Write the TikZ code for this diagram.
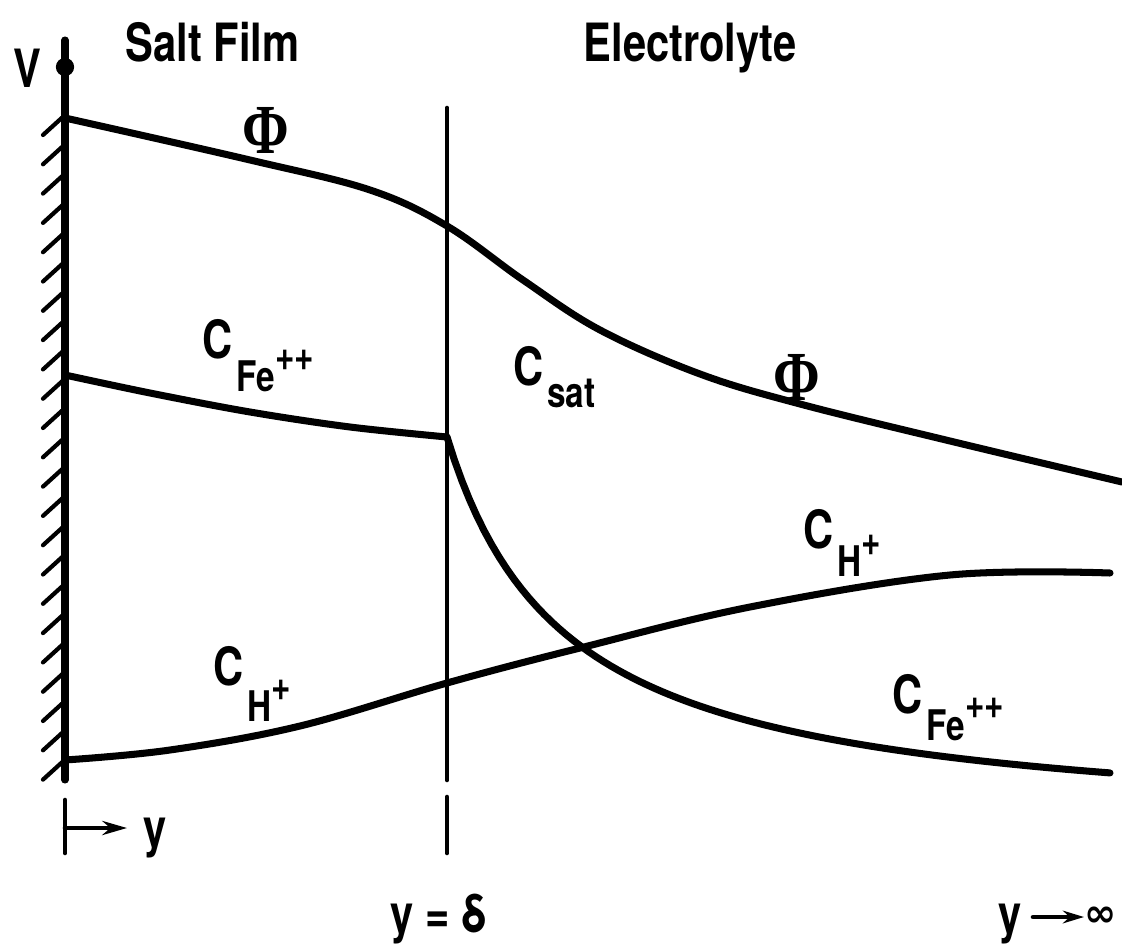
\documentclass[tikz,border=0pt]{standalone}
\usepackage{fontspec}
\setmainfont{TeX Gyre Heros}[FakeStretch=0.79]
\newfontfamily\djfont{DejaVu Sans}
\newfontfamily\phifont{Liberation Serif}
\usetikzlibrary{arrows.meta}
\newcommand{\lblsize}{\fontsize{15}{15}\selectfont\bfseries}
\newcommand{\subsize}{\fontsize{12}{12}\selectfont\bfseries}
% #1 subscript, #2 superscript, #3 drop of subscript
\newcommand{\Conc}[3]{C\hspace{1pt}\raisebox{-#3}{\subsize #1\raisebox{6pt}{#2}}}
\newcommand{\PhiSym}{\scalebox{0.8}[1]{\phifont\bfseries Φ}}
\begin{document}
\begin{tikzpicture}[x=0.01cm,y=-0.01cm,
  curve/.style={line width=2pt,line cap=round,line join=round},
  wallline/.style={line width=2pt,line cap=round},
  hatchline/.style={line width=1.2pt,line cap=round},
  thinline/.style={line width=1.3pt,line cap=round},
  lbl/.style={inner sep=0pt,anchor=base west,font=\lblsize},
  phil/.style={inner sep=0pt,font=\fontsize{20}{20}\selectfont}]
\useasboundingbox (0,0) rectangle (1122,946);
% wall
\draw[wallline] (65,40) -- (65,780);
\fill (65,67) circle[radius=2.6pt];
\foreach \k in {0,...,22} {\draw[hatchline] (65,{115+29.3*\k}) -- ++(-22,20);}
% interface line y = delta
\draw[thinline] (447,108) -- (447,780);
\draw[thinline] (447,797) -- (447,853);
% y axis marker
\draw[thinline] (65,800) -- (65,853);
\coordinate (yorig) at (65,828);
\coordinate (yend) at (127,828);
\draw[thinline,-{Stealth[length=7pt,width=4pt]}] (yorig) -- (yend);
% Phi curve
\draw[curve] plot[smooth,tension=0.6] coordinates {(65,118) (250,160) (370,190) (447,226) (523,280) (600,330) (700,374) (800,404) (950,441) (1122,482)};
% C_Fe++ in salt film
\draw[curve] plot[smooth,tension=0.55] coordinates {(65,375) (150,393) (250,412) (350,427) (447,437)};
% C_Fe++ in electrolyte
\draw[curve] plot[domain=0:663,samples=90] ({447+\x},{833.7-476.08/((\x+120)/100)});
% C_H+
\draw[curve] plot[smooth,tension=0.6] coordinates {(65,760) (170,750) (300,726) (447,683) (580,648) (750,607) (950,575) (1110,573)};
% labels
\node[lbl] (V) at (13,88) {V};
\node[lbl] (salt) at (125,62) {Salt Film};
\node[lbl] (elec) at (583,62) {Electrolyte};
\node[phil] (phi1) at (266,130) {\PhiSym};
\node[phil] (phi2) at (797,377) {\PhiSym};
\node[lbl] (cfe1) at (202,358) {\Conc{Fe}{++}{9.6pt}};
\node[lbl] (csat) at (513,385) {C\hspace{1pt}\raisebox{-6.5pt}{\subsize sat}};
\node[lbl] (ch1) at (213,685) {\Conc{H}{+}{10.5pt}};
\node[lbl] (ch2) at (803,548) {\Conc{H}{+}{8.2pt}};
\node[lbl] (cfe2) at (892,713) {\Conc{Fe}{++}{7.7pt}};
\node[lbl] (ylab) at (143,846) {y};
\node[lbl] (ydelta) at (390,932) {y = δ};
\node[lbl] (yinf) at (998,932) {y};
\node[inner sep=0pt,anchor=west,font=\djfont\bfseries\fontsize{11}{11}\selectfont] (inf) at (1084,917) {∞};
\draw[thinline,-{Stealth[length=6pt,width=3.6pt]}] (1033,917) -- (inf.west);
\end{tikzpicture}
\end{document}
